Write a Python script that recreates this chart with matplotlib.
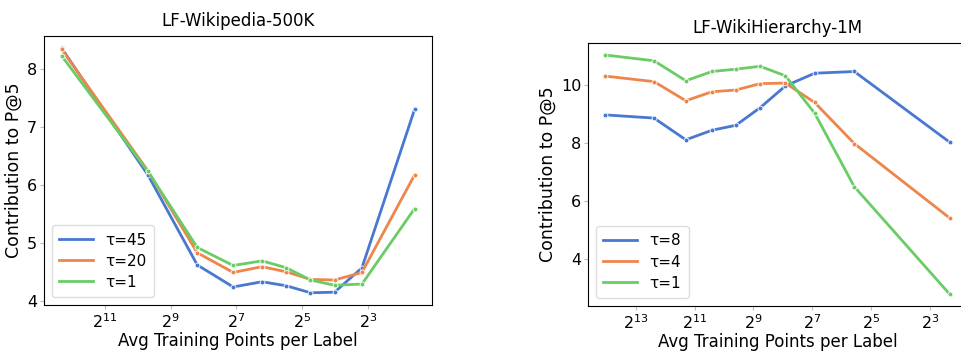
import matplotlib
matplotlib.use("Agg")
import matplotlib.pyplot as plt
import seaborn as sns

# LF-Wikipedia-500K
wiki_x = [5078, 826, 292, 137, 74.5, 44.6, 26.9, 16.2, 9.1, 3.0]
wiki_labels = ["τ=45", "τ=20", "τ=1"]
wiki_y = [
    [8.35, 6.17, 4.62, 4.24, 4.33, 4.26, 4.14, 4.15, 4.57, 7.30],
    [8.33, 6.24, 4.83, 4.49, 4.59, 4.50, 4.37, 4.36, 4.49, 6.17],
    [8.22, 6.23, 4.92, 4.61, 4.69, 4.57, 4.36, 4.27, 4.29, 5.59],
]
wiki_ticks = [2**11, 2**9, 2**7, 2**5, 2**3]

# LF-WikiHierarchy-1M
hier_x = [16800, 5330, 2520, 1360, 776, 437, 241, 121, 47.5, 5.03]
hier_labels = ["τ=8", "τ=4", "τ=1"]
hier_y = [
    [8.97, 8.86, 8.11, 8.44, 8.61, 9.22, 9.97, 10.41, 10.47, 8.03],
    [10.31, 10.12, 9.46, 9.77, 9.83, 10.05, 10.07, 9.40, 7.98, 5.41],
    [11.04, 10.84, 10.15, 10.47, 10.55, 10.65, 10.32, 9.03, 6.49, 2.78],
]
hier_ticks = [2**13, 2**11, 2**9, 2**7, 2**5, 2**3]

colors = sns.color_palette("muted", 3)


def draw_panel(ax, xs, ys, labels, ticks, title):
    for y, lab, c in zip(ys, labels, colors):
        ax.plot(xs, y, '-o', color=c, label=lab, linewidth=2,
                markersize=3.5, markeredgecolor='white', markeredgewidth=0.6)
    ax.set_xscale('log', base=2)
    ax.set_xticks(ticks)
    ax.minorticks_off()
    ax.invert_xaxis()
    ax.set_title(title, fontsize=12, pad=7)
    ax.set_xlabel("Avg Training Points per Label", fontsize=12, labelpad=1)
    ax.set_ylabel("Contribution to P@5", fontsize=12.5, labelpad=3)
    ax.tick_params(labelsize=11.5, length=3, color='#bbbbbb', pad=2)
    leg = ax.legend(loc='lower left', fontsize=11, handlelength=2.2, borderpad=0.5,
                    labelspacing=0.4, edgecolor='#dddddd', framealpha=1)
    for ln in leg.get_lines():
        ln.set_marker('')


fig = plt.figure(figsize=(9.61, 3.52), dpi=100)
ax1 = fig.add_axes([0.0458, 0.1335, 0.404, 0.764])
ax2 = fig.add_axes([0.612, 0.1307, 0.394, 0.747])

draw_panel(ax1, wiki_x, wiki_y, wiki_labels, wiki_ticks, "LF-Wikipedia-500K")
draw_panel(ax2, hier_x, hier_y, hier_labels, hier_ticks, "LF-WikiHierarchy-1M")

fig.savefig("out.png", dpi=100)
